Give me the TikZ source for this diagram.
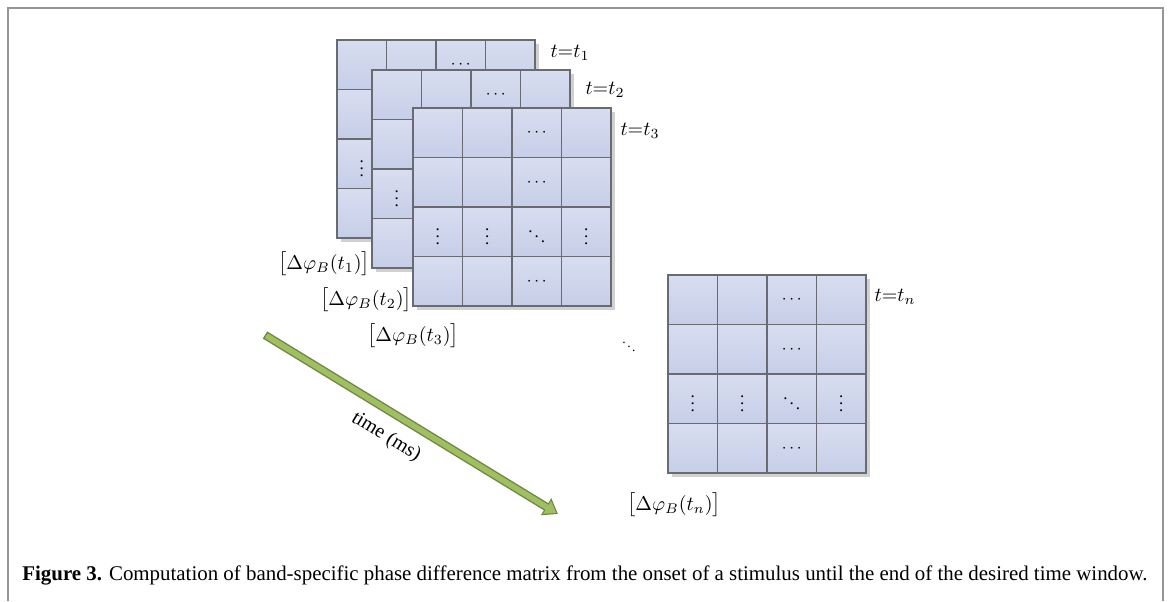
\documentclass[tikz,border=0pt]{standalone}
\usepackage{fontspec}
\setmainfont{Liberation Serif}
\usetikzlibrary{arrows.meta}

\definecolor{cell top}{RGB}{216,221,240}
\definecolor{cell bottom}{RGB}{198,206,232}
\definecolor{cell edge}{RGB}{105,107,115}
\definecolor{time green}{RGB}{160,190,100}
\definecolor{time edge}{RGB}{112,135,66}
\definecolor{frame gray}{RGB}{150,150,150}

\tikzstyle{cell}=[draw=cell edge, line width=0.55pt, top color=cell top, bottom color=cell bottom, minimum size=24.75pt, inner sep=0pt]
\tikzstyle{shade}=[black!18]
\tikzstyle{dots}=[inner sep=0pt, scale=0.85, font=\fontsize{10}{12}\selectfont]
\tikzstyle{tlabel}=[inner sep=0pt, font=\fontsize{10}{12}\selectfont]
\tikzstyle{mlabel}=[inner sep=0pt, font=\fontsize{10}{12}\selectfont]
\tikzstyle{caption}=[inner sep=0pt, font=\fontsize{10.45}{12}\selectfont]

\begin{document}
\begin{tikzpicture}[x=0.5pt, y=-0.5pt]
	\useasboundingbox (0,0) rectangle (1171,601);

	% Frame round the figure
	\draw[frame gray, line width=1.3pt] (8,601) -- (8,8) -- (1163,8) -- (1163,601);

	% Phase difference matrices, back to front
	\foreach \m/\X/\Y in {a/337/40, b/372/70, c/413/108, n/668/275}{
		\fill[shade] (\X+4,\Y+4) rectangle (\X+202,\Y+202);
		\foreach \r in {1,...,4}{
			\foreach \c in {1,...,4}{
				\node[cell] (\m-\r-\c) at ({\X+(\c-0.5)*49.5},{\Y+(\r-0.5)*49.5}) {};
			}
		}
		\node[dots] (\m-d1) at (\m-1-3) {$\cdots$};
		\node[dots] (\m-d2) at (\m-2-3) {$\cdots$};
		\node[dots] (\m-d3) at (\m-3-1) {$\vdots$};
		\node[dots] (\m-d4) at (\m-3-2) {$\vdots$};
		\node[dots] (\m-d5) at (\m-3-3) {$\ddots$};
		\node[dots] (\m-d6) at (\m-3-4) {$\vdots$};
		\node[dots] (\m-d7) at (\m-4-3) {$\cdots$};
	}

	% Time stamps
	\node[tlabel] (ta) at (570, 53) {$t{=}t_1$};
	\node[tlabel] (tb) at (605, 90) {$t{=}t_2$};
	\node[tlabel] (tc) at (640,131) {$t{=}t_3$};
	\node[tlabel] (tn) at (895,297) {$t{=}t_n$};

	% Matrix names
	\node[mlabel] (la) at (324,264) {$\bigl[\Delta\varphi_B(t_1)\bigr]$};
	\node[mlabel] (lb) at (366,300) {$\bigl[\Delta\varphi_B(t_2)\bigr]$};
	\node[mlabel] (lc) at (413,336) {$\bigl[\Delta\varphi_B(t_3)\bigr]$};
	\node[mlabel] (ln) at (674,505) {$\bigl[\Delta\varphi_B(t_n)\bigr]$};

	\node[dots, scale=0.8] (gap) at (629,343) {$\ddots$};

	% Time axis
	\coordinate (start) at (265,335);
	\coordinate (stop) at (558,514);
	\draw[time edge, line width=4.2pt, -{Triangle[length=7pt, width=9.5pt]}] (start) -- (stop);
	\draw[time green, line width=2.8pt, shorten >=1pt, shorten <=0.7pt, -{Triangle[length=5.4pt, width=7.2pt]}] (start) -- (stop);
	\node[font=\fontsize{10}{12}\selectfont, rotate=-31.4] (time) at (386,437) {time (ms)};

	% Caption
	\node[caption, anchor=west] (cap) at (22,575) {\textbf{Figure 3.} Computation of band-specific phase difference matrix from the onset of a stimulus until the end of the desired time window.};
\end{tikzpicture}
\end{document}
